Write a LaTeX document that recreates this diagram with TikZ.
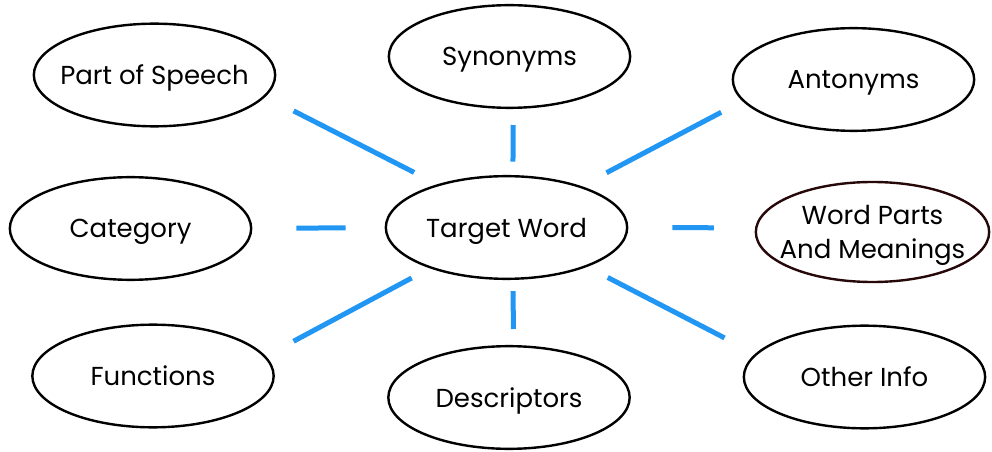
\documentclass[tikz,border=0pt]{standalone}
\usepackage{fontspec}
\setmainfont{Poppins}
\usetikzlibrary{shapes.geometric}

\tikzset{every picture/.style={line width=0.75pt}}
\tikzset{
  bubble/.style={draw, ellipse, line width=1.8, minimum width=181pt, minimum height=77pt, inner xsep=-30pt, inner ysep=0pt, text depth=0pt, align=center, font=\fontsize{19.5}{25.5}\selectfont},
  spoke/.style={draw={rgb, 255:red, 33; green, 150; blue, 243 }, line width=3.75},
}

\begin{document}
\begin{tikzpicture}[x=0.75pt,y=0.75pt,yscale=-1,xscale=1]
\useasboundingbox (0,0) rectangle (992,452); %set diagram size 992 x 452

%Shape: Ellipse [centre]
\node [bubble] (target) at (506.5,227.5) {Target Word};
%Shape: Ellipse [top row]
\node [bubble] (speech) at (154.5,75) {Part of Speech};
\node [bubble] (syn) at (509.5,56.5) {Synonyms};
\node [bubble] (ant) at (853.5,79.5) {Antonyms};
%Shape: Ellipse [middle row]
\node [bubble] (cat) at (130.5,228.5) {Category};
\node [bubble, draw={rgb, 255:red, 38; green, 8; blue, 8 }, minimum width=175pt, minimum height=75pt] (parts) at (872.5,232) {Word Parts\\And Meanings};
%Shape: Ellipse [bottom row]
\node [bubble] (func) at (153,376) {Functions};
\node [bubble] (desc) at (509,397.5) {Descriptors};
\node [bubble] (other) at (864.5,377) {Other Info};

%Straight Lines [spokes]
\draw [spoke, shorten <=19.5pt, shorten >=23.6pt] (target.148.7) -- (speech.-11.8);
\draw [spoke, shorten <=10pt, shorten >=12pt] (target.83) -- (syn.-86);
\draw [spoke, shorten <=21.4pt, shorten >=18pt] (target.29.3) -- (ant.191.7);
\draw [spoke, shorten <=29.3pt, shorten >=33pt] (target.west) -- (cat.east);
\draw [spoke, shorten <=33pt, shorten >=30.8pt] (target.east) -- (parts.178);
\draw [spoke, shorten <=15.4pt, shorten >=23.6pt] (target.208.6) -- (func.10.4);
\draw [spoke, shorten <=8.3pt, shorten >=12pt] (target.-83) -- (desc.85.6);
\draw [spoke, shorten <=17.3pt, shorten >=25.9pt] (target.-26.8) -- (other.168.6);

\end{tikzpicture}
\end{document}
